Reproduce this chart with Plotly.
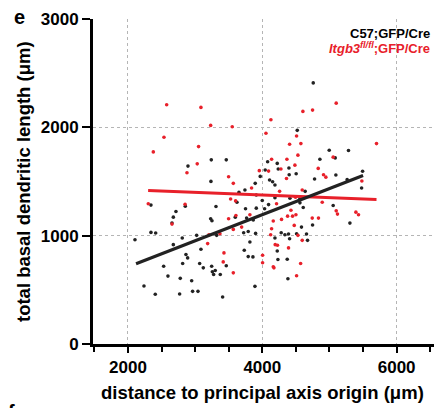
import plotly.graph_objects as go

# ---- data ----
black_x = [4758, 4520, 3240, 3463, 2893, 4079, 4222, 4043, 4237, 4396, 4857, 4996, 5283, 5085,
           5493, 5478, 5263, 4778, 4504, 4400, 3969, 4108, 4153, 3894, 3235, 4188, 3741, 3652,
           3910, 4188, 4411, 4554, 4638, 3622, 3999, 2342, 2853, 3310, 3750, 3910, 4034, 4093,
           4609, 4560, 5055, 2714, 2675, 3231, 3250, 3597, 3766, 3865, 2655, 4748, 5304, 4583,
           2342, 2412, 3722, 3790, 3900, 4281, 4336, 4390, 4510, 4658, 2104, 2808, 3022, 3320,
           4673, 4406, 2675, 3086, 3731, 4222, 3860, 3790, 4232, 2888, 2814, 2531, 3067, 3246,
           4371, 2595, 2778, 2948, 2238, 2406, 2769, 2962, 3042, 3121, 3256, 3275, 3299, 3374,
           3463, 3890, 3409, 4381, 5095, 3815, 4188, 2863]
black_y = [2410, 1972, 1700, 1700, 1642, 1682, 1667, 1606, 1615, 1624, 1706, 1789, 1786, 1718,
           1594, 1440, 1517, 1523, 1572, 1562, 1547, 1514, 1498, 1483, 1501, 1468, 1422, 1401,
           1376, 1351, 1345, 1333, 1409, 1309, 1325, 1282, 1272, 1269, 1248, 1254, 1248, 1287,
           1260, 1303, 1278, 1223, 1171, 1156, 1138, 1171, 1162, 1144, 1116, 1098, 1116, 1079,
           1030, 1025, 1027, 1039, 1021, 1027, 1009, 1015, 1018, 1015, 963, 979, 1003, 1003,
           957, 972, 917, 875, 865, 859, 804, 807, 780, 795, 743, 718, 743, 718,
           783, 627, 606, 584, 535, 459, 461, 486, 486, 703, 667, 642, 679, 642,
           722, 532, 434, 602, 1560, 941, 979, 826]

red_x = [2576, 3086, 3231, 3552, 4128, 4054, 4604, 4748, 5100, 4510, 2536, 2377, 3051, 4406,
         4574, 5700, 4530, 3031, 2878, 4138, 4093, 4366, 4277, 4485, 4832, 4911, 5055, 5482,
         3498, 3568, 3840, 3528, 3602, 4257, 4494, 4594, 4212, 2302, 4426, 4376, 4450, 4500,
         4743, 4836, 4892, 5100, 5119, 5393, 5432, 3498, 3607, 3815, 2655, 3568, 3692, 4138,
         4286, 4475, 3205, 3369, 4124, 4530, 3186, 4192, 4226, 4390, 3429, 4004, 3418, 4163,
         4004, 4570, 3568, 4510, 2850, 4163, 4946, 3955, 4360, 4594, 4173]
red_y = [2208, 2184, 2018, 2006, 2070, 1945, 2147, 2159, 2223, 1920, 1908, 1773, 1822, 1844,
         1850, 1850, 1743, 1663, 1581, 1706, 1596, 1706, 1615, 1651, 1621, 1562, 1725, 1505,
         1544, 1483, 1440, 1339, 1321, 1409, 1355, 1422, 1294, 1294, 1235, 1180, 1180, 1193,
         1162, 1162, 1309, 1229, 1199, 1217, 1193, 1156, 1186, 1193, 1107, 1058, 1079, 1064,
         1150, 1095, 1009, 1018, 1009, 1003, 927, 917, 911, 887, 841, 819, 758, 713,
         750, 743, 657, 630, 1290, 1135, 1540, 1600, 1528, 957, 703]

# regression lines (end points)
fit_black_x = [2120, 5500]
fit_black_y = [740, 1555]
fit_red_x = [2300, 5700]
fit_red_y = [1416, 1333]

x_ticks = [2000, 4000, 6000]
y_ticks = [0, 1000, 2000, 3000]

x_title = "distance to principal axis origin (μm)"
y_title = "total basal dendritic length (μm)"

BLACK = "#222222"
RED = "#e8202a"
FONT = "Liberation Sans, Arial, sans-serif"

W, H = 434, 408
pl, pr, pt, pb = 93, 0, 19, 64
pw, ph = W - pl - pr, H - pt - pb


def px2paper(px, py):
    return (px - pl) / pw, (H - py - pb) / ph


fig = go.Figure()
fig.add_trace(go.Scatter(x=black_x, y=black_y, mode="markers",
                         marker=dict(size=3.6, color=BLACK), showlegend=False))
fig.add_trace(go.Scatter(x=red_x, y=red_y, mode="markers",
                         marker=dict(size=3.6, color=RED), showlegend=False))
fig.add_trace(go.Scatter(x=fit_red_x, y=fit_red_y, mode="lines",
                         line=dict(color=RED, width=3), showlegend=False))
fig.add_trace(go.Scatter(x=fit_black_x, y=fit_black_y, mode="lines",
                         line=dict(color=BLACK, width=3.2), showlegend=False))

anns = []


def add_text(text, px, py, size, color="black", xanchor="center", yanchor="middle", angle=0):
    x, y = px2paper(px, py)
    anns.append(dict(text=text, x=x, y=y, xref="paper", yref="paper", showarrow=False,
                     xanchor=xanchor, yanchor=yanchor, textangle=angle,
                     font=dict(size=size, color=color, family=FONT)))


add_text("<b>e</b>", 12, 4, 20, xanchor="left", yanchor="top")
add_text("<b>f</b>", 6, 399, 20, xanchor="left", yanchor="top")
add_text("<b>C57;GFP/Cre</b>", 432, 33, 13, xanchor="right")
add_text("<b><i>Itgb3</i><sup><i>fl/fl</i></sup>;GFP/Cre</b>", 432, 48, 13, color=RED,
         xanchor="right")
add_text(f"<b>{x_title}</b>", 262, 392, 18.5)
add_text(f"<b>{y_title}</b>", 24, 182, 18.5, angle=-90)

fig.update_layout(
    width=W, height=H,
    margin=dict(l=pl, r=pr, t=pt, b=pb, autoexpand=False),
    paper_bgcolor="white", plot_bgcolor="white",
    font=dict(family=FONT, color="black"),
    xaxis=dict(
        range=[1479, 6556], tickvals=x_ticks, ticktext=[f"<b>{v}</b>" for v in x_ticks],
        tickfont=dict(size=17), ticks="outside", ticklen=6, tickwidth=2, tickcolor="black",
        minor=dict(dtick=500, tick0=0, ticks="outside", ticklen=5, tickwidth=2, tickcolor="black",
                   showgrid=False),
        showline=True, linewidth=3, linecolor="black",
        showgrid=True, gridcolor="#b5b5b5", gridwidth=1, griddash="dot",
        zeroline=False, automargin=False,
    ),
    yaxis=dict(
        range=[0, 3000], tickvals=y_ticks, ticktext=[f"<b>{v}</b>" for v in y_ticks],
        tickfont=dict(size=17), ticks="outside", ticklen=8, tickwidth=2, tickcolor="black",
        showline=True, linewidth=3, linecolor="black",
        showgrid=True, gridcolor="#b5b5b5", gridwidth=1, griddash="dot",
        zeroline=False, automargin=False,
    ),
    annotations=anns,
)

fig.write_html("out.html")
